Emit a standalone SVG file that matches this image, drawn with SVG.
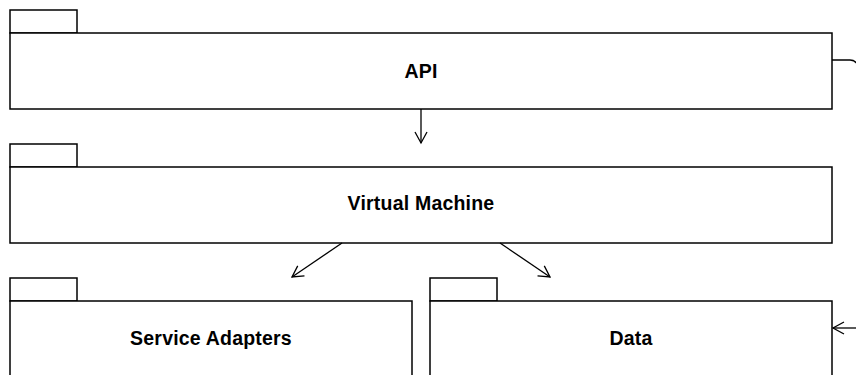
<svg xmlns="http://www.w3.org/2000/svg" width="856" height="375" viewBox="0 0 856 375">
<defs>
<style>
.pk{fill:#fff;stroke:#000;stroke-width:1.5}
.lbl{font-family:"Liberation Sans",Arial,sans-serif;font-weight:bold;font-size:19.5px;letter-spacing:0.2px;text-anchor:middle;fill:#000}
.c{fill:none;stroke:#000;stroke-width:1.3}
</style>
<marker id="ah" markerWidth="14" markerHeight="14" viewBox="0 0 14 14" refX="12" refY="7" orient="auto" markerUnits="userSpaceOnUse">
<path d="M1,1 L12,7 L1,13" fill="none" stroke="#000" stroke-width="1.3"/>
</marker>
</defs>
<rect width="856" height="375" fill="#fff"/>
<g id="api">
<rect class="pk" x="10" y="10" width="67" height="23"/>
<rect class="pk" x="10" y="33" width="822" height="76"/>
<text class="lbl" x="421" y="78">API</text>
</g>
<g id="vm">
<rect class="pk" x="10" y="144" width="67" height="23"/>
<rect class="pk" x="10" y="167" width="822" height="76"/>
<text class="lbl" x="421" y="210">Virtual Machine</text>
</g>
<g id="sa">
<rect class="pk" x="10" y="278" width="67" height="23"/>
<rect class="pk" x="10" y="301" width="402" height="90"/>
<text class="lbl" x="211" y="345">Service Adapters</text>
</g>
<g id="data">
<rect class="pk" x="430" y="278" width="67" height="23"/>
<rect class="pk" x="430" y="301" width="402" height="90"/>
<text class="lbl" x="631" y="345">Data</text>
</g>
<g id="connectors">
<path class="c" d="M421,109 L421,143" marker-end="url(#ah)"/>
<path class="c" d="M342,243 L292,277" marker-end="url(#ah)"/>
<path class="c" d="M500,243 L550,277" marker-end="url(#ah)"/>
<path class="c" d="M832,60 L850,60 Q856,60 858,66"/>
<path class="c" d="M858,328 L833,328" marker-end="url(#ah)"/>
</g>
</svg>
